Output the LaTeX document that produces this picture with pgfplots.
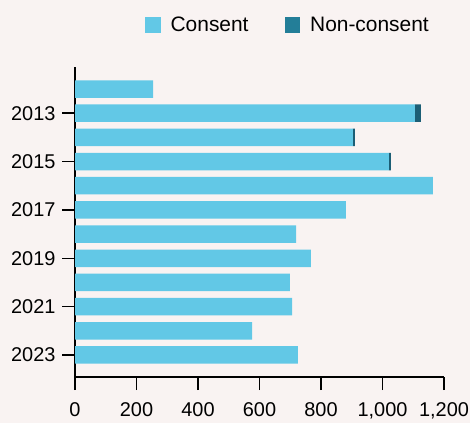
\documentclass[border=0pt]{standalone}
\usepackage{pgfplots}
\pgfplotsset{compat=1.18}
\usepackage{fontspec}
\setmainfont{Liberation Sans}
\definecolor{bg}{RGB}{249,243,242}
\definecolor{cons}{RGB}{98,200,230}
\definecolor{noncons}{RGB}{28,94,117}
\definecolor{nonconsleg}{RGB}{35,126,152}
\begin{document}
\begin{tikzpicture}
\fill[bg] (-75bp,-46bp) rectangle (395bp,377bp);
\path[use as bounding box] (-75bp,-46bp) rectangle (395bp,377bp);
\begin{axis}[
  scale only axis, width=369bp, height=310bp,
  xbar stacked, bar width=17.5bp,
  xmin=0, xmax=1200, ymin=-0.91, ymax=11.91,
  axis x line*=bottom, axis y line*=left,
  axis line style={line width=1.4bp, black, -},
  tick align=outside, major tick length=13bp,
  tick style={line width=1.4bp, black},
  xtick={0,200,...,1200},
  ytick={0,2,4,6,8,10},
  yticklabels={2023,2021,2019,2017,2015,2013},
  minor tick num=0,
  /pgf/number format/assume math mode=true,
  /pgf/number format/1000 sep={,},
  ticklabel style={font=\fontsize{20}{24}\selectfont},
  xticklabel style={yshift=-9bp},
  yticklabel style={xshift=-3bp},
  legend style={at={(0.577,1.136)}, anchor=center, draw=none, fill=none,
    font=\fontsize{21}{25}\selectfont,
    /tikz/every even column/.append style={column sep=34bp}},
  legend columns=2,
  legend image code/.code={\fill[#1, draw=none] (0bp,-7.8bp) rectangle (15.6bp,7.8bp); \path[draw=none, fill=none] (0bp,0bp) -- (23.6bp,0bp);},
]
\addlegendimage{fill=cons, draw=none}
\addlegendimage{fill=nonconsleg, draw=none}
\addplot[fill=cons, draw=none] coordinates {
(254,11) (1105,10) (904,9) (1021,8) (1164,7) (881,6) (719,5) (767,4) (699,3) (706,2) (576,1) (725,0)};
\addplot[fill=noncons, draw=none] coordinates {
(0,11) (20,10) (6,9) (6,8) (0,7) (0,6) (0,5) (0,4) (0,3) (0,2) (0,1) (0,0)};
\legend{Consent, Non-consent}
\end{axis}
\end{tikzpicture}
\end{document}
